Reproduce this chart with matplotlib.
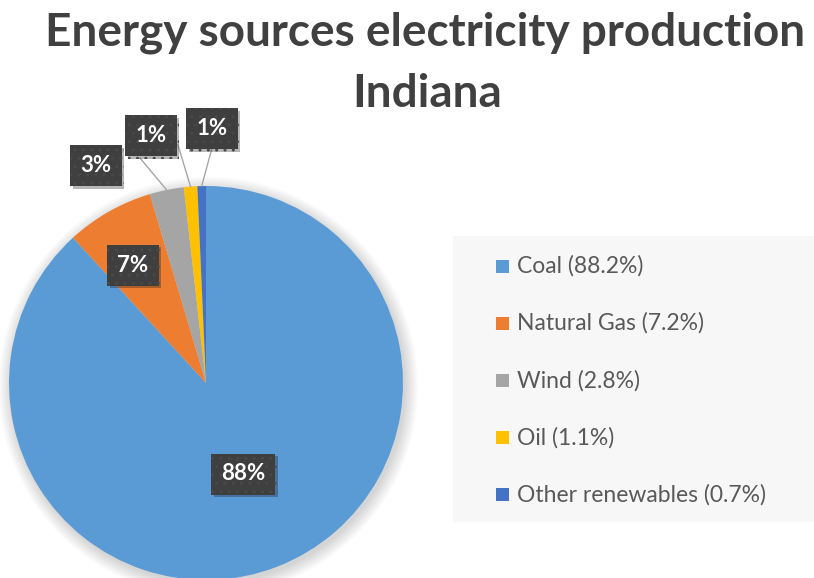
import matplotlib
matplotlib.use("Agg")
import matplotlib.pyplot as plt
import matplotlib.patheffects as pe
from matplotlib.patches import Rectangle, Circle
import numpy as np

# Indiana electricity production by source (%)
sources = ["Coal", "Natural Gas", "Wind", "Oil", "Other renewables"]
shares = [88.2, 7.2, 2.8, 1.1, 0.7]
colors = ["#5b9bd5", "#ed7d31", "#a5a5a5", "#ffc000", "#4472c4"]

W, H = 814, 578
fig = plt.figure(figsize=(W / 100, H / 100), dpi=100)
fig.patch.set_facecolor("white")

def fx(px):
    return px / W

def fy(py):
    return 1 - py / H

# pie axes placed in pixels: centre (206, 383), radius 197
cx, cy, r = 206, 383, 197
ax = fig.add_axes([fx(cx - r), fy(cy + r), 2 * r / W, 2 * r / H])

# soft shadow round the pie
for k in range(14):
    ax.add_patch(Circle((0.012, -0.018), 1 + 0.005 * k, color="#000000",
                        alpha=0.012, lw=0, zorder=0, clip_on=False))

wedges, _ = ax.pie(shares, colors=colors, startangle=90, counterclock=False,
                   radius=1, wedgeprops=dict(linewidth=0))
for w in wedges:
    w.set_zorder(2)
    w.set_clip_on(False)
ax.set_xlim(-1, 1)
ax.set_ylim(-1, 1)
ax.set_aspect("equal")
ax.axis("off")

def to_data(px, py):
    return (px - cx) / r, (cy - py) / r

# label centres (pixels) and leader line starts
label_pos = [(243, 474), (133, 265), (96, 166), (151, 136), (212, 129)]
leader_start = [None, None, (140, 158), (178, 145), (212, 148)]

for i, (w, v) in enumerate(zip(wedges, shares)):
    mid = np.deg2rad((w.theta1 + w.theta2) / 2)
    if leader_start[i] is not None:
        sx, sy = to_data(*leader_start[i])
        ax.plot([sx, np.cos(mid)], [sy, np.sin(mid)], color="#a6a6a6",
                lw=1, zorder=3, clip_on=False)
    lx, ly = to_data(*label_pos[i])
    t = ax.text(lx, ly, f"{round(v)}%", ha="center", va="center",
                color="white", fontsize=16, fontweight="bold", family="Lato",
                zorder=5, clip_on=False,
                bbox=dict(boxstyle="square,pad=0.45", facecolor="#3f3f3f",
                          edgecolor="#494949", linewidth=0, hatch=".."))
    t.get_bbox_patch().set_path_effects(
        [pe.withSimplePatchShadow(offset=(2, -2), alpha=0.3)])

# title
fig.text(fx(425), fy(45), "Energy sources electricity production",
         ha="center", va="baseline", fontsize=33, fontweight="bold",
         family="Lato", color="#404040")
fig.text(fx(427), fy(107), "Indiana", ha="center", va="baseline",
         fontsize=33, fontweight="bold", family="Lato", color="#404040")

# legend
fig.patches.append(Rectangle((fx(453), fy(522)), fx(W - 453), (522 - 236) / H,
                             transform=fig.transFigure, facecolor="#f7f7f7",
                             edgecolor="none", zorder=0))
for i, (name, v, c) in enumerate(zip(sources, shares, colors)):
    y = 266 + i * 57.2
    fig.patches.append(Rectangle((fx(496), fy(y + 6.5)), 13 / W, 13 / H,
                                 transform=fig.transFigure, facecolor=c,
                                 edgecolor="none", zorder=2))
    fig.text(fx(517), fy(y), f"{name} ({v}%)", ha="left", va="center",
             fontsize=16.5, family="Lato", color="#595959")

fig.savefig("out.png", dpi=100)
